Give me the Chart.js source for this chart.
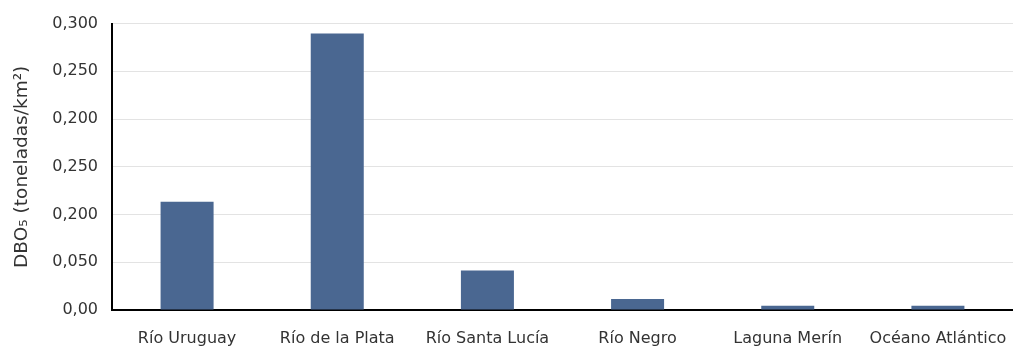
<!DOCTYPE html>
<html>
<head>
<meta charset="utf-8">
<script src="https://cdn.jsdelivr.net/npm/chart.js@4/dist/chart.umd.min.js"></script>
<style>
  html, body { margin: 0; padding: 0; background: #fff; }
  #wrap { width: 1013px; height: 350px; position: relative; }
</style>
</head>
<body>
<div id="wrap"><canvas id="chart"></canvas></div>
<script>
  // Data
  const categories = ['Río Uruguay', 'Río de la Plata', 'Río Santa Lucía', 'Río Negro', 'Laguna Merín', 'Océano Atlántico'];
  const dboValues = [0.1135, 0.2895, 0.0415, 0.0115, 0.0045, 0.0045];
  // Tick labels exactly as printed on the reference axis
  const yTickLabels = ['0,00', '0,050', '0,200', '0,250', '0,200', '0,250', '0,300'];

  const ctx = document.getElementById('chart').getContext('2d');
  const chart = new Chart(ctx, {
    type: 'bar',
    data: {
      labels: categories,
      datasets: [{
        data: dboValues,
        backgroundColor: '#4a6791',
        categoryPercentage: 1,
        barPercentage: 0.353
      }]
    },
    options: {
      responsive: true,
      maintainAspectRatio: false,
      animation: false,
      layout: {
        padding: { left: 0, right: 0, top: 21, bottom: 0 }
      },
      plugins: {
        legend: { display: false },
        tooltip: { enabled: false }
      },
      scales: {
        x: {
          grid: { display: false },
          border: { color: '#000', width: 2 },
          ticks: {
            color: '#333',
            padding: 11,
            maxRotation: 0,
            autoSkip: false,
            font: { family: 'DejaVu Sans', size: 16 }
          },
          afterFit: function(scale) {
            scale.height = 40;
            scale.paddingLeft = 0;
            scale.paddingRight = 0;
          }
        },
        y: {
          min: 0,
          max: 0.3,
          grid: { color: '#e3e3e3', lineWidth: 1, drawTicks: false },
          border: { color: '#000', width: 2 },
          ticks: {
            stepSize: 0.05,
            color: '#333',
            padding: 14,
            font: { family: 'DejaVu Sans', size: 16 },
            callback: function(value, index) { return yTickLabels[index]; }
          },
          title: {
            display: true,
            text: 'DBO₅ (toneladas/km²)',
            color: '#333',
            padding: { top: 11, bottom: 4 },
            font: { family: 'DejaVu Sans', size: 18.5 }
          },
          afterFit: function(scale) { scale.width = 112; }
        }
      }
    }
  });
</script>
</body>
</html>
